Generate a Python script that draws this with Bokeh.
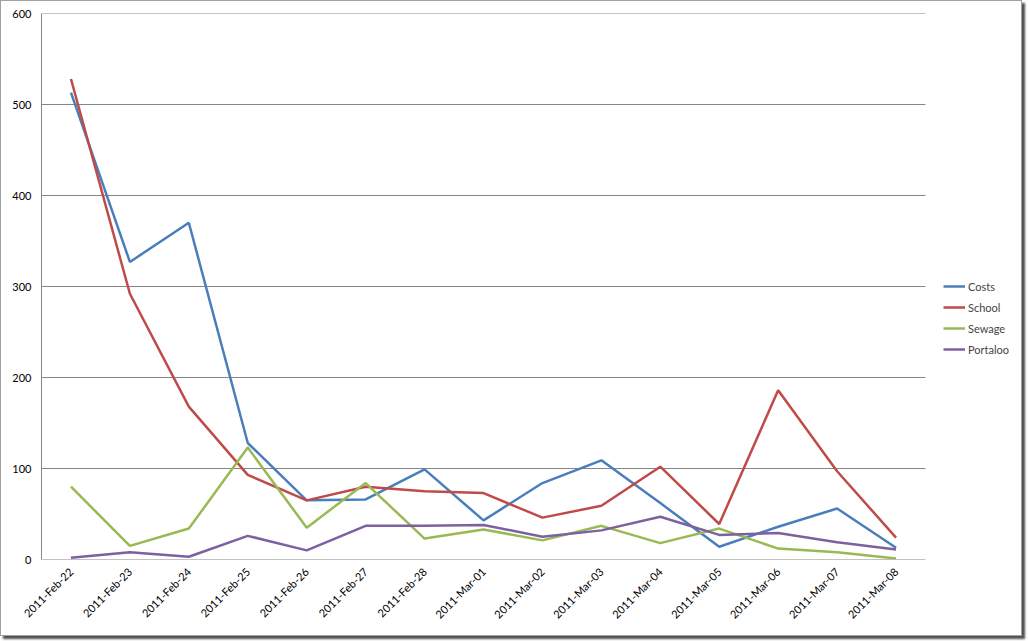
from bokeh.plotting import figure
from bokeh.models import Range1d, FixedTicker, Legend, LegendItem
from bokeh.embed import file_html
from bokeh.resources import INLINE
import math

dates = ["2011-Feb-22", "2011-Feb-23", "2011-Feb-24", "2011-Feb-25", "2011-Feb-26",
         "2011-Feb-27", "2011-Feb-28", "2011-Mar-01", "2011-Mar-02", "2011-Mar-03",
         "2011-Mar-04", "2011-Mar-05", "2011-Mar-06", "2011-Mar-07", "2011-Mar-08"]
costs = [513, 327, 370, 128, 65, 66, 99, 43, 84, 109, 62, 14, 36, 56, 13]
school = [528, 292, 168, 93, 65, 80, 75, 73, 46, 59, 102, 39, 186, 97, 24]
sewage = [80, 15, 34, 123, 35, 84, 23, 33, 21, 37, 18, 34, 12, 8, 1]
portaloo = [2, 8, 3, 26, 10, 37, 37, 38, 25, 32, 47, 27, 29, 19, 11]
y_ticks = [0, 100, 200, 300, 400, 500, 600]

series = [("Costs", costs, "#4A7EBB"), ("School", school, "#BE4B48"),
          ("Sewage", sewage, "#98B954"), ("Portaloo", portaloo, "#7D60A0")]

FONT = "Lato"
idx = list(range(len(dates)))
n = len(dates)
# plot frame is 981 px wide; the category area covers 884 px of it, the rest holds the legend
x_end = -0.5 + n * 981.0 / 884.0

p = figure(width=1022, height=636, x_range=Range1d(-0.5, x_end),
           y_range=Range1d(0, 600), output_backend="svg", toolbar_location=None,
           min_border_left=40, min_border_top=12, min_border_right=1, min_border_bottom=78)
p.outline_line_color = None
p.background_fill_color = "white"
p.border_fill_color = "white"
p.styles = {"border": "1px solid #a0a0a0", "box-shadow": "3px 3px 2px #505050"}

p.xgrid.grid_line_color = None
p.ygrid.grid_line_color = None

# horizontal gridlines spanning only the category area
p.segment(x0=[-0.5] * len(y_ticks), x1=[n - 0.5] * len(y_ticks), y0=y_ticks, y1=y_ticks,
          line_color="#868686", line_width=1)

p.yaxis.ticker = FixedTicker(ticks=y_ticks)
p.xaxis.ticker = FixedTicker(ticks=idx)
p.xaxis.major_label_overrides = {i: d for i, d in zip(idx, dates)}
for ax in (p.xaxis[0], p.yaxis[0]):
    ax.axis_line_color = "#868686"
    ax.major_tick_line_color = None
    ax.minor_tick_line_color = None
    ax.major_tick_out = 0
    ax.major_tick_in = 0
    ax.major_label_text_font = FONT
    ax.major_label_text_font_size = "11px"
    ax.major_label_text_color = "#000000"
p.xaxis.axis_line_color = None
p.yaxis.major_label_standoff = 10
p.xaxis.major_label_standoff = 10
p.xaxis.major_label_orientation = math.pi / 4

items = []
for name, vals, col in series:
    r = p.line(x=idx, y=vals, line_color=col, line_width=2.5)
    items.append(LegendItem(label=name, renderers=[r]))

legend = Legend(items=items, location=(902, 200), padding=0, margin=0, spacing=1,
                glyph_width=22, glyph_height=20, label_height=20, label_standoff=3,
                label_text_font=FONT, label_text_font_size="11px",
                border_line_color=None, background_fill_alpha=0)
p.add_layout(legend)

open("out.html", "w").write(file_html(p, INLINE))
